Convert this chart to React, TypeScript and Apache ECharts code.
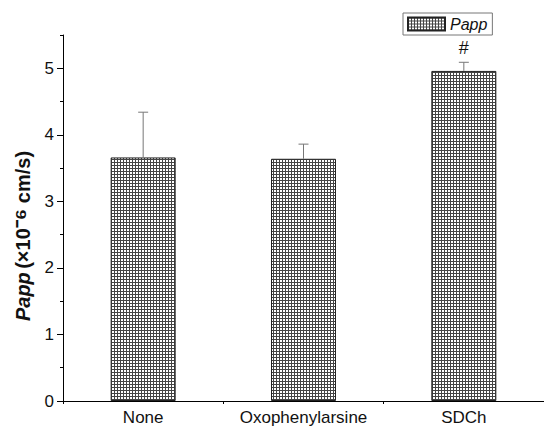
import React, { useEffect, useRef } from "react";
import * as echarts from "echarts";

const categories = ["None", "Oxophenylarsine", "SDCh"];
const means = [3.66, 3.64, 4.96];
const errors = [0.68, 0.22, 0.13];
const marks = ["", "", "#"];
const yLabels = [0, 1, 2, 3, 4, 5];
const yMinor = [0.5, 1.5, 2.5, 3.5, 4.5, 5.5];

function makePattern(): HTMLCanvasElement {
  const c = document.createElement("canvas");
  c.width = 3;
  c.height = 3;
  const ctx = c.getContext("2d")!;
  ctx.fillStyle = "#ffffff";
  ctx.fillRect(0, 0, 3, 3);
  ctx.fillStyle = "#444444";
  ctx.fillRect(0, 0, 3, 1);
  ctx.fillRect(0, 0, 1, 3);
  return c;
}

export default function App() {
  const ref = useRef<HTMLDivElement>(null);
  useEffect(() => {
    const chart = echarts.init(ref.current!, undefined, { renderer: "svg" });
    const pattern = { image: makePattern(), repeat: "repeat" as const };
    const font = "Liberation Sans, Arial, sans-serif";
    chart.setOption({
      animation: false,
      backgroundColor: "#ffffff",
      textStyle: { fontFamily: font },
      grid: { left: 63, right: -11, top: 35, bottom: 29, containLabel: false },
      legend: {
        data: ["Papp"],
        left: 403,
        top: 13,
        icon: "rect",
        itemWidth: 37,
        itemHeight: 13,
        itemGap: 6,
        borderColor: "#777",
        borderWidth: 1,
        padding: [3, 5, 3, 4],
        textStyle: { fontStyle: "italic", fontSize: 16, color: "#111", fontFamily: font },
      },
      graphic: [
        {
          type: "text",
          x: 23,
          y: 236,
          rotation: Math.PI / 2,
          style: {
            text: "{i|Papp} {b|(×10}{s|⁻⁶}{b| cm/s)}",
            align: "center",
            verticalAlign: "middle",
            rich: {
              i: { fontStyle: "italic", fontWeight: "bold", fontSize: 20, fill: "#111", fontFamily: font },
              b: { fontWeight: "bold", fontSize: 20, fill: "#111", fontFamily: font },
              s: { fontWeight: "bold", fontSize: 25, fill: "#111", fontFamily: font },
            },
          },
        },
      ],
      xAxis: [
        {
          type: "category",
          data: categories,
          boundaryGap: true,
          axisLine: { lineStyle: { color: "#000", width: 1 } },
          axisTick: { alignWithLabel: true, length: 6, lineStyle: { color: "#000" } },
          axisLabel: { fontSize: 17, color: "#111", margin: 8, interval: 0, hideOverlap: false },
        },
        {
          type: "category",
          data: categories,
          position: "bottom",
          boundaryGap: true,
          axisLine: { show: false },
          axisTick: { show: true, length: 3, lineStyle: { color: "#000" } },
          axisLabel: { show: false },
        },
      ],
      yAxis: [
        {
          type: "value",
          min: 0,
          max: 5.5,
          interval: 0.5,
          splitLine: { show: false },
          axisLine: { show: true, lineStyle: { color: "#000" } },
          axisTick: { show: true, length: 6, customValues: yLabels, lineStyle: { color: "#000" } },
          axisLabel: { fontSize: 17, color: "#111", margin: 9, customValues: yLabels },
        },
        {
          type: "value",
          min: 0,
          max: 5.5,
          interval: 0.5,
          splitLine: { show: false },
          axisLine: { show: false },
          axisTick: { show: true, length: 3, customValues: yMinor, lineStyle: { color: "#000" } },
          axisLabel: { show: false },
          position: "left",
        },
      ],
      series: [
        {
          name: "Papp",
          type: "bar",
          data: means,
          barWidth: 65,
          itemStyle: { color: pattern, borderColor: "#222", borderWidth: 1 },
        },
        {
          type: "custom",
          data: means.map((m, i) => [i, m, errors[i]]),
          renderItem: (params: any, api: any) => {
            const i = api.value(0);
            const m = api.value(1);
            const e = api.value(2);
            const p0 = api.coord([i, m]);
            const p1 = api.coord([i, m + e]);
            const mk = marks[params.dataIndex];
            const children: any[] = [
              { type: "line", shape: { x1: p0[0], y1: p0[1], x2: p1[0], y2: p1[1] }, style: { stroke: "#777", lineWidth: 1 } },
              { type: "line", shape: { x1: p1[0] - 5, y1: p1[1], x2: p1[0] + 5, y2: p1[1] }, style: { stroke: "#777", lineWidth: 1 } },
            ];
            if (mk) {
              children.push({
                type: "text",
                style: { text: mk, x: p1[0], y: p1[1] - 5, align: "center", verticalAlign: "bottom", fontSize: 18, fill: "#111", fontFamily: font },
              });
            }
            return { type: "group", children };
          },
          z: 5,
        },
      ],
    });
    return () => chart.dispose();
  }, []);
  return <div ref={ref} style={{ width: 544, height: 430, position: "absolute", left: 0, top: 0 }} />;
}
